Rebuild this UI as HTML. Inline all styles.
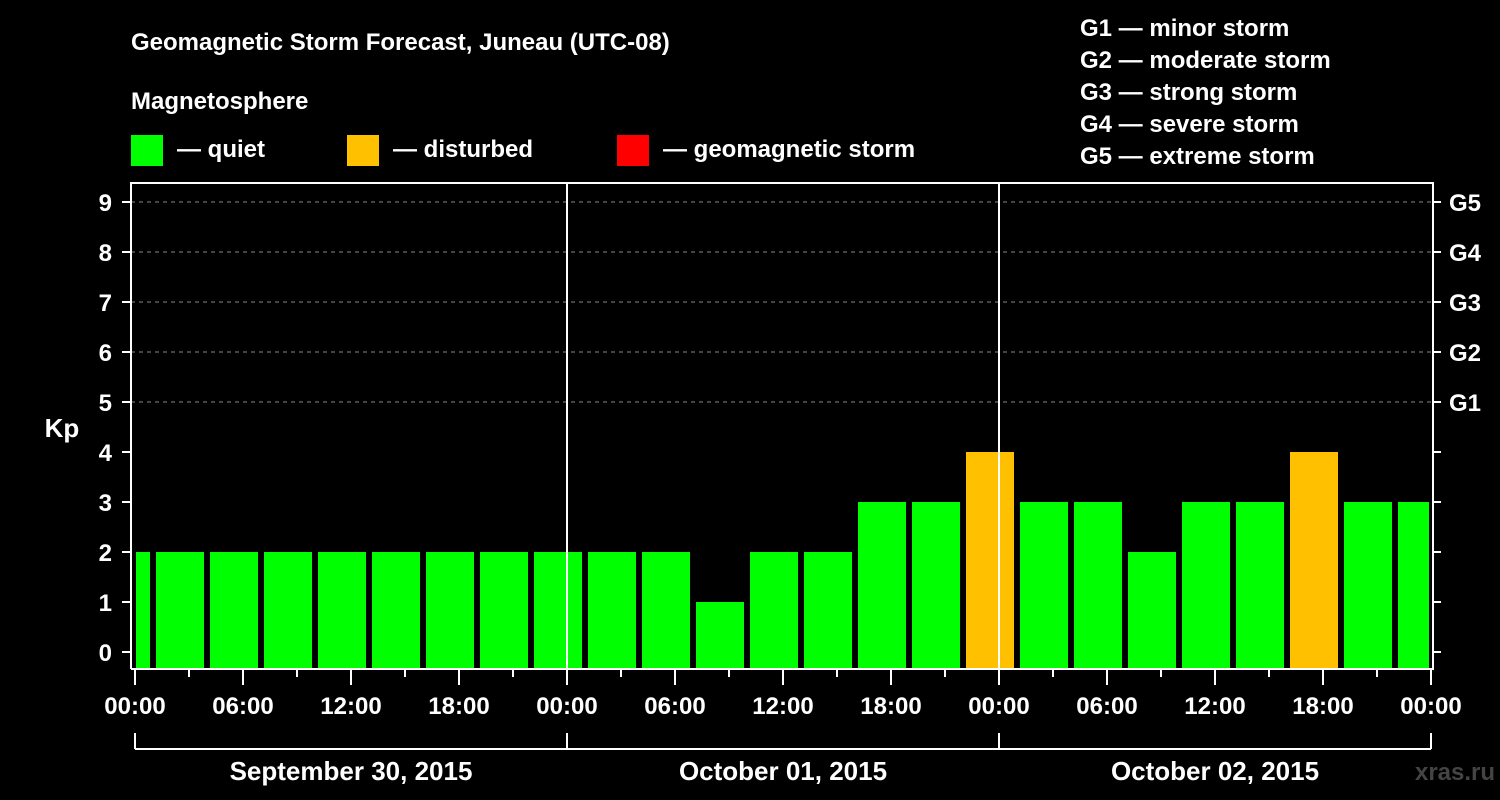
<!DOCTYPE html>
<html><head><meta charset="utf-8"><style>
html,body{margin:0;padding:0;background:#000;}
svg{display:block;font-family:"Liberation Sans",Arial,sans-serif;font-weight:bold;}
</style></head><body>
<svg id="chart" width="1500" height="800" viewBox="0 0 1500 800">
<rect width="1500" height="800" fill="#000"/>
<text x="131" y="50" fill="#fff" font-size="24">Geomagnetic Storm Forecast, Juneau (UTC-08)</text>
<text x="131" y="109" fill="#fff" font-size="24">Magnetosphere</text>
<g><rect x="131" y="135" width="32" height="31" fill="#00ff00"/><text x="177" y="157" fill="#fff" font-size="24">— quiet</text></g>
<g><rect x="347" y="135" width="32" height="31" fill="#ffc000"/><text x="393" y="157" fill="#fff" font-size="24">— disturbed</text></g>
<g><rect x="617" y="135" width="32" height="31" fill="#ff0000"/><text x="663" y="157" fill="#fff" font-size="24">— geomagnetic storm</text></g>
<g fill="#fff" font-size="24">
<text x="1080" y="36">G1 — minor storm</text>
<text x="1080" y="68">G2 — moderate storm</text>
<text x="1080" y="100">G3 — strong storm</text>
<text x="1080" y="132">G4 — severe storm</text>
<text x="1080" y="164">G5 — extreme storm</text>
</g>
<text x="62" y="437" fill="#fff" font-size="26" text-anchor="middle">Kp</text>
<text x="1455" y="780" fill="#444" font-size="24" text-anchor="middle">xras.ru</text>
<g id="plot"></g>
</svg>
<script>
const kpValues=[2,2,2,2,2,2,2,2,2,2,2,1,2,2,3,3,4,3,3,2,3,3,4,3,3];
const dayLabels=["September 30, 2015","October 01, 2015","October 02, 2015"];
const yTicks=[0,1,2,3,4,5,6,7,8,9];
const gLabels=["G1","G2","G3","G4","G5"];
const hourLabels=["00:00","06:00","12:00","18:00"];
const NS="http://www.w3.org/2000/svg";
const g=document.getElementById('plot');
const L=131,R=1433,T=183,B=669,X0=135,PXH=18;
const xh=h=>X0+h*PXH;
const yk=k=>652-k*50;
function mk(tag,attrs,parent){const e=document.createElementNS(NS,tag);for(const k in attrs)e.setAttribute(k,attrs[k]);(parent||g).appendChild(e);return e;}
// grid
yTicks.forEach(k=>{if(k>=5){const l=mk('line',{x1:L,x2:R,y1:yk(k),y2:yk(k),stroke:'#888','stroke-dasharray':'4,4','stroke-width':1});

}});
// bars
kpValues.forEach((v,i)=>{const c=xh(-0.5+3*i);let x1=c-24,x2=c+24;x1=Math.max(x1,L+5);x2=Math.min(x2,R-4);
const col=v>=5?'#ff0000':(v>=4?'#ffc000':'#00ff00');
const r=mk('rect',{x:x1,y:yk(v),width:x2-x1,height:668-yk(v),fill:col});

});
// day separators
[1,2].forEach(d=>{const l=mk('line',{x1:xh(24*d),x2:xh(24*d),y1:T,y2:B,stroke:'#fff','stroke-width':2});

});
// frame
const f=mk('path',{d:`M${L},${B} V${T} H${R} V${B} H${L}`,fill:'none',stroke:'#fff','stroke-width':2});


// y ticks
yTicks.forEach(k=>{mk('line',{x1:122,x2:L,y1:yk(k),y2:yk(k),stroke:'#fff','stroke-width':2});
mk('line',{x1:R,x2:R+8,y1:yk(k),y2:yk(k),stroke:'#fff','stroke-width':2});
const t=mk('text',{x:112,y:yk(k)+9,fill:'#fff','font-size':24,'text-anchor':'end'});t.textContent=k;


if(k>=5){const gt=mk('text',{x:1449,y:yk(k)+9,fill:'#fff','font-size':24});gt.textContent=gLabels[k-5];

}});
// x ticks
for(let h=0;h<=72;h+=3){const major=h%6===0;mk('line',{x1:xh(h),x2:xh(h),y1:B,y2:B+(major?16:8),stroke:'#fff','stroke-width':2});
if(major){const t=mk('text',{x:xh(h),y:714,fill:'#fff','font-size':24,'text-anchor':'middle'});t.textContent=hourLabels[(h/6)%4];

}}
// date bracket
mk('line',{x1:xh(0),x2:xh(72),y1:749,y2:749,stroke:'#fff','stroke-width':2});
[0,24,48,72].forEach(h=>mk('line',{x1:xh(h),x2:xh(h),y1:733,y2:749,stroke:'#fff','stroke-width':2}));
dayLabels.forEach((d,i)=>{const t=mk('text',{x:xh(24*i+12),y:780,fill:'#fff','font-size':26,'text-anchor':'middle'});t.textContent=d;

});
</script>
</body></html>
